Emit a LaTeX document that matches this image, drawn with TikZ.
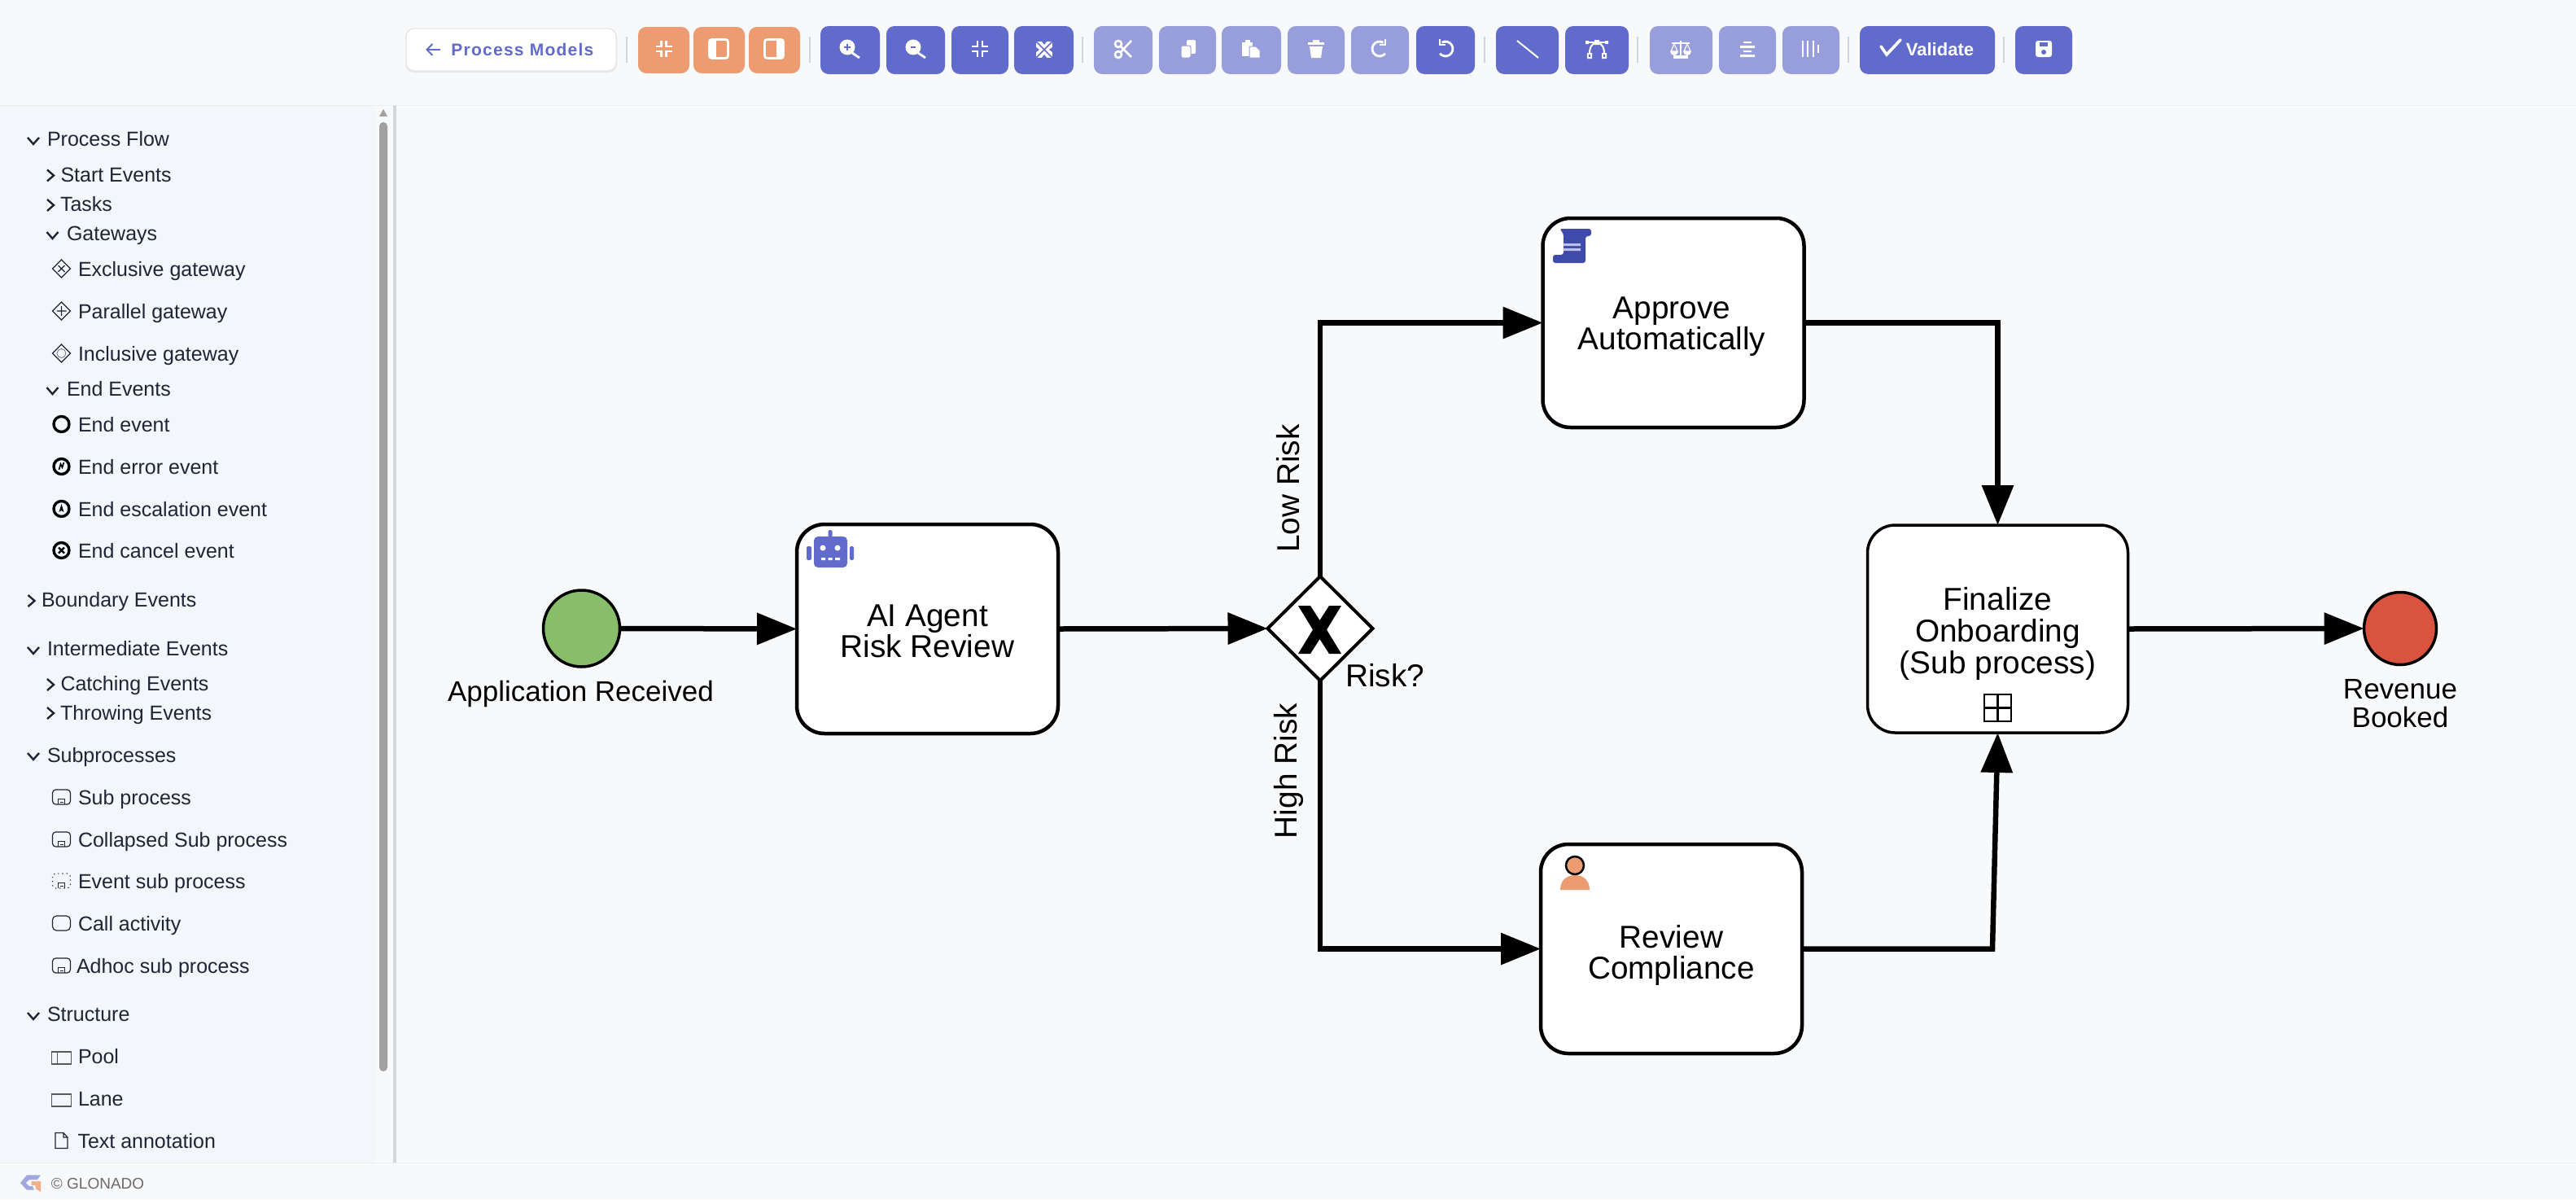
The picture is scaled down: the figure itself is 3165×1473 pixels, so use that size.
\documentclass[tikz,border=0pt]{standalone}
\usepackage{fontspec}
\setmainfont{Liberation Sans}
\usetikzlibrary{arrows.meta,shapes.geometric,calc}
\definecolor{pagebg}{HTML}{F8F9FB}
\definecolor{sidebg}{HTML}{F3F6FB}
\definecolor{sbtxt}{HTML}{1F2535}
\definecolor{btnorange}{HTML}{EC9C70}
\definecolor{btnblue}{HTML}{616BCB}
\definecolor{btnlight}{HTML}{989EDC}
\definecolor{sepgray}{HTML}{D2D4D9}
\definecolor{startgreen}{HTML}{88BE6A}
\definecolor{endred}{HTML}{D9533F}
\definecolor{scrollblue}{HTML}{3F4BA8}
\tikzset{
  x=0.5pt,y=-0.5pt,
  task/.style={draw=black,fill=white,line width=2.25pt,rounded corners=17pt,minimum width=160.5pt,minimum height=128.5pt,inner sep=0pt,outer sep=0pt,align=center,font=\fontsize{19.4pt}{19.3pt}\selectfont},
  evlabel/.style={inner sep=0pt,outer sep=0pt,align=center,font=\fontsize{17.5pt}{17.5pt}\selectfont},
  flowlabel/.style={inner sep=0pt,outer sep=0pt,font=\fontsize{19.4pt}{19.4pt}\selectfont},
  flow/.style={draw=black,line width=3.25pt,-{Triangle[length=24.5pt,width=19pt]}},
  sb/.style={inner sep=0pt,outer sep=0pt,anchor=base west,text=sbtxt,font=\fontsize{12.5pt}{14pt}\selectfont},
  chev/.style={draw=sbtxt,line width=1.2pt},
  sbic/.style={draw=sbtxt,line width=0.6pt},
  orangebtn/.style={fill=btnorange,rounded corners=5pt},
  bluebtn/.style={fill=btnblue,rounded corners=5pt},
  lightbtn/.style={fill=btnlight,rounded corners=5pt},
  tsep/.style={draw=sepgray,line width=0.6pt},
  ic/.style={draw=white,line width=1.4pt},
  icf/.style={fill=white},
}
\newcommand{\tsepat}[1]{\draw[tsep] (#1,45) -- (#1,77);}
\newcommand{\chevd}[2]{\draw[chev] (#1-7,#2-4) -- (#1,#2+4) -- (#1+7,#2-4);}
\newcommand{\chevr}[2]{\draw[chev] (#1-4,#2-7) -- (#1+4,#2) -- (#1-4,#2+7);}
\newcommand{\icCompress}[2]{\begin{scope}[shift={(#1,#2)}]
 \draw[ic] (-3,-10)--(-3,-3)--(-10,-3) (3,-10)--(3,-3)--(10,-3) (-3,10)--(-3,3)--(-10,3) (3,10)--(3,3)--(10,3);\end{scope}}
\newcommand{\sbsub}[2]{\begin{scope}[shift={(#1,#2)}]
 \draw[sbic,rounded corners=2pt] (-11,-9) rectangle (11,9);
 \draw[sbic,line width=0.45pt] (-4,9) -- (-4,2) -- (4,2) -- (4,9) (-2,6) -- (2,6);\end{scope}}
\begin{document}
\begin{tikzpicture}
\useasboundingbox (0,0) rectangle (3165,1473);
% backgrounds
\fill[pagebg] (0,0) rectangle (3165,1473);
\fill[sidebg] (0,129) rectangle (461,1428);
\fill[pagebg] (461,129) rectangle (483,1428);
\fill[black!13!sidebg] (483,129) rectangle (487,1428);
\draw[black!7,line width=0.5pt] (0,129) -- (3165,129);
\draw[black!7,line width=0.5pt] (0,1428) -- (3165,1428);
% scrollbar
\fill[black!37,rounded corners=2.5pt] (466,150) rectangle (476,1316);
\fill[black!37] (466,143) -- (471,134) -- (476,143) -- cycle;
% toolbar
\fill[black!9,rounded corners=5pt] (498,35) rectangle (758,89);
\draw[fill=white,draw=black!10,line width=0.5pt,rounded corners=5pt] (499,35) rectangle (757,87);
\draw[btnblue,line width=1pt,-{Straight Barb[length=3.5pt,width=7pt]}] (541,61) -- (523,61);
\node[inner sep=0pt,anchor=base west,text=btnblue] (btnmodels) at (554,68) {\fontsize{10.5pt}{12pt}\selectfont\bfseries\addfontfeature{LetterSpace=6}Process Models};
\tsepat{770}
\fill[orangebtn] (784,33) rectangle (847,90);
\fill[orangebtn] (852,33) rectangle (915,90);
\fill[orangebtn] (920,33) rectangle (983,90);
\icCompress{815.5}{60}
\begin{scope}[shift={(883,60)}]
 \draw[ic,rounded corners=1.5pt] (-11.5,-11.5) rectangle (11.5,11.5);
 \fill[white] (-11.5,-11.5) rectangle (-3,11.5);
\end{scope}
\begin{scope}[shift={(951,60)}]
 \draw[ic,rounded corners=1.5pt] (-11.5,-11.5) rectangle (11.5,11.5);
 \fill[white] (11.5,-11.5) rectangle (3,11.5);
\end{scope}
\tsepat{995}
\fill[bluebtn] (1008,32) rectangle (1081,91);
\fill[bluebtn] (1089,32) rectangle (1161,91);
\fill[bluebtn] (1169,32) rectangle (1239,91);
\fill[bluebtn] (1246,32) rectangle (1319,91);
\begin{scope}[shift={(1044,60)}]
 \fill[white] (-3,-2) circle[radius=9.5];
 \draw[ic] (3,5) -- (12,11);
 \draw[btnblue,line width=0.9pt] (-7,-2) -- (1,-2) (-3,-6) -- (-3,2);
\end{scope}
\begin{scope}[shift={(1125,60)}]
 \fill[white] (-3,-2) circle[radius=9.5];
 \draw[ic] (3,5) -- (12,11);
 \draw[btnblue,line width=0.9pt] (-6,-2) -- (0,-2);
\end{scope}
\icCompress{1204}{60}
\begin{scope}[shift={(1283,61)}]
 \fill[white] (-10,-10) rectangle (10,10);
 \draw[btnblue,line width=0.8pt] (-10,-10) -- (10,10) (-10,10) -- (10,-10);
 \fill[btnblue] (-10,-3) -- (-6,0) -- (-10,3) -- cycle (10,-3) -- (6,0) -- (10,3) -- cycle (-3,-10) -- (0,-6) -- (3,-10) -- cycle (-3,10) -- (0,6) -- (3,10) -- cycle;
\end{scope}
\tsepat{1330}
\fill[lightbtn] (1344,32) rectangle (1416,91);
\fill[lightbtn] (1424,32) rectangle (1494,91);
\fill[lightbtn] (1501,32) rectangle (1574,91);
\fill[lightbtn] (1582,32) rectangle (1652,91);
\fill[lightbtn] (1660,32) rectangle (1731,91);
\fill[bluebtn] (1740,32) rectangle (1812,91);
\begin{scope}[shift={(1380,60)}]
 \draw[ic,line width=1.3pt] (-6,-6) circle[radius=4] (-6,7) circle[radius=4] (-3,-3) -- (10,10) (-3,4) -- (10,-10);
\end{scope}
\begin{scope}[shift={(1460,60)}]
 \fill[white,rounded corners=1pt] (-2,-11) rectangle (9,6);
 \draw[fill=white,draw=btnlight,line width=0.5pt,rounded corners=1pt] (-9,-4) rectangle (3,11);
\end{scope}
\begin{scope}[shift={(1537,60)}]
 \fill[white] (-11,-8) rectangle (2,9);
 \fill[white] (-7,-11) rectangle (-1,-7);
 \draw[fill=white,draw=btnlight,line width=0.5pt] (-2,-3) -- (6,-3) -- (11,2) -- (11,11) -- (-2,11) -- cycle;
\end{scope}
\begin{scope}[shift={(1617,60)}]
 \fill[white] (-10,-8) rectangle (10,-5);
 \fill[white] (-4,-11) rectangle (4,-8);
 \fill[white] (-8,-3) -- (8,-3) -- (6,11) -- (-6,11) -- cycle;
\end{scope}
\begin{scope}[shift={(1695,60)}]
 \draw[ic] (4.5,-7.8) arc[start angle=-60,end angle=-320,radius=9];
 \draw[ic] (7,-12) -- (7,-5) -- (0,-5);
\end{scope}
\begin{scope}[shift={(1776,60)},xscale=-1]
 \draw[ic] (4.5,-7.8) arc[start angle=-60,end angle=-320,radius=9];
 \draw[ic] (7,-12) -- (7,-5) -- (0,-5);
\end{scope}
\tsepat{1824}
\fill[bluebtn] (1838,32) rectangle (1915,91);
\fill[bluebtn] (1923,32) rectangle (2001,91);
\draw[ic,line width=1pt] (1864,50) -- (1890,71);
\begin{scope}[shift={(1962,60)}]
 \draw[ic,line width=1pt] (-13,-8) -- (13,-8);
 \draw[ic,line width=1pt] (0,-8) .. controls (-8,-6) and (-9,0) .. (-9,6);
 \draw[ic,line width=1pt] (0,-8) .. controls (8,-6) and (9,0) .. (9,6);
 \fill[white] (-3,-11) rectangle (3,-5) (-14,-10) rectangle (-10,-6) (10,-10) rectangle (14,-6);
 \fill[white] (-12,5) rectangle (-6,12) (6,5) rectangle (12,12);
 \fill[btnblue] (-10,7) rectangle (-8,10) (8,7) rectangle (10,10);
\end{scope}
\tsepat{2012}
\fill[lightbtn] (2027,32) rectangle (2104,91);
\fill[lightbtn] (2112,32) rectangle (2182,91);
\fill[lightbtn] (2190,32) rectangle (2260,91);
\begin{scope}[shift={(2065,60)}]
 \draw[ic] (0,-10) -- (0,9) (-11,-7) -- (11,-7);
 \fill[white] (-9,8) rectangle (9,12);
 \draw[ic,line width=0.6pt] (-8,-6) -- (-12,3) -- (-4,3) -- cycle (8,-6) -- (12,3) -- (4,3) -- cycle;
 \fill[white] (-13,3) arc[start angle=180,end angle=0,radius=5] -- cycle;
 \fill[white] (3,3) arc[start angle=180,end angle=0,radius=5] -- cycle;
\end{scope}
\begin{scope}[shift={(2147,60)}]
 \fill[white] (-5,-9) rectangle (5,-7) (-9,-4) rectangle (9,-1) (-5,2) rectangle (5,4) (-9,7) rectangle (9,10);
\end{scope}
\begin{scope}[shift={(2225,60)}]
 \draw[ic,line width=0.9pt] (-10,-10) -- (-10,10) (-4,-10) -- (-4,10) (3,-10) -- (3,10) (9,-5) -- (9,5);
\end{scope}
\tsepat{2271}
\fill[bluebtn] (2285,32) rectangle (2451,91);
\draw[white,line width=1.8pt,line cap=round] (2311,57) -- (2318,67) -- (2335,49);
\node[inner sep=0pt,anchor=base west,text=white] (btnvalidate) at (2341.5,68) {\fontsize{11pt}{12pt}\selectfont\bfseries Validate};
\tsepat{2462}
\fill[bluebtn] (2476,32) rectangle (2546,91);
\begin{scope}[shift={(2511,60)}]
 \fill[white,rounded corners=1.5pt] (-10,-10) rectangle (10,10);
 \fill[btnblue] (-5,-8) rectangle (5,-3);
 \fill[btnblue] (0,4) circle[radius=3];
\end{scope}
% sidebar text
\foreach \tx/\ty/\tt [count=\i] in {
 58/179/Process Flow, 74.5/223/Start Events, 74/259/Tasks, 82/295/Gateways,
 96/339/Exclusive gateway, 96/391/Parallel gateway, 96/443/Inclusive gateway,
 82/486/End Events, 96/530/End event, 96/582/End error event,
 96/634/End escalation event, 96/685/End cancel event, 51/745/Boundary Events,
 58/805/Intermediate Events, 74.5/848/Catching Events, 74/884/Throwing Events,
 58/936/Subprocesses, 96/988/Sub process, 96/1040/Collapsed Sub process,
 96/1091/Event sub process, 96/1143/Call activity, 94/1195/Adhoc sub process,
 58/1254/Structure, 96/1306/Pool, 96/1358/Lane, 95.5/1410/Text annotation}
 {\node[sb] (sb\i) at (\tx,\ty) {\tt};}
\chevd{41}{173} \chevd{41}{799} \chevd{41}{929} \chevd{41}{1248}
\chevd{64.5}{289} \chevd{64.5}{480}
\chevr{62}{215.5} \chevr{62}{252} \chevr{62}{841} \chevr{62}{876} \chevr{38.5}{738}
% sidebar icons: gateways
\begin{scope}[shift={(75.5,330)}]
 \draw[sbic] (-11,0) -- (0,-11) -- (11,0) -- (0,11) -- cycle (-4,-4) -- (4,4) (-4,4) -- (4,-4);
\end{scope}
\begin{scope}[shift={(75.5,382)}]
 \draw[sbic] (-11,0) -- (0,-11) -- (11,0) -- (0,11) -- cycle (-6,0) -- (6,0) (0,-6) -- (0,6);
\end{scope}
\begin{scope}[shift={(75.5,434)}]
 \draw[sbic] (-11,0) -- (0,-11) -- (11,0) -- (0,11) -- cycle;
 \draw[draw=black!55,line width=0.4pt] (0,0) circle[radius=5.5];
\end{scope}
% sidebar icons: end events
\draw[black,line width=1.7pt] (75.5,521) circle[radius=9.5];
\begin{scope}[shift={(75.5,573)}]
 \draw[black,line width=1.7pt] (0,0) circle[radius=9.5];
 \draw[black,line width=0.8pt] (-3,4) -- (-1,-3) -- (1,1) -- (3,-5);
\end{scope}
\begin{scope}[shift={(75.5,625)}]
 \draw[black,line width=1.7pt] (0,0) circle[radius=9.5];
 \fill[black] (0,-6) -- (3,4) -- (0,2) -- (-3,4) -- cycle;
\end{scope}
\begin{scope}[shift={(75.5,676)}]
 \draw[black,line width=1.7pt] (0,0) circle[radius=9.5];
 \draw[black,line width=1.2pt] (-3.5,-3.5) -- (3.5,3.5) (-3.5,3.5) -- (3.5,-3.5);
\end{scope}
% sidebar icons: subprocesses
\sbsub{75.5}{979}
\sbsub{75.5}{1031}
\begin{scope}[shift={(75.5,1082)}]
 \draw[sbic,dotted,rounded corners=2pt] (-11,-9) rectangle (11,9);
 \draw[sbic,line width=0.45pt] (-4,9) -- (-4,2) -- (4,2) -- (4,9) (-2,6) -- (2,6);
\end{scope}
\draw[sbic,rounded corners=2.5pt] (64.5,1125) rectangle (86.5,1143);
\sbsub{75.5}{1186}
% sidebar icons: structure
\draw[draw=black!65,line width=0.7pt] (63.5,1292) rectangle (87.5,1307) (70.5,1292) -- (70.5,1307);
\draw[draw=black!65,line width=0.7pt] (63.5,1344) rectangle (87.5,1359);
\draw[sbic] (68,1391.5) -- (78,1391.5) -- (83,1397) -- (83,1410.5) -- (68,1410.5) -- cycle (78,1391.5) -- (78,1397) -- (83,1397);
% footer
\fill[btnlight!90!white] (33,1443.3) -- (50,1443.3) -- (46,1449) -- (36,1449) -- (31.7,1453) -- (36,1457) -- (40,1457) -- (42,1461.7) -- (33,1461.7) -- (25,1453) -- cycle;
\fill[btnorange!80!white] (38.5,1451) -- (50,1451) -- (50,1464) -- (43.5,1460) -- (43.5,1456) -- (38.5,1456) -- cycle;
\node[inner sep=0pt,anchor=base west,text=black!58] (footer) at (62.5,1460) {\fontsize{9.5pt}{11pt}\selectfont © GLONADO};
% process nodes
\node[circle,draw=black,fill=startgreen,line width=1.75pt,minimum size=47pt,inner sep=0pt,outer sep=0pt] (start) at (714.5,772) {};
\node[task] (ai) at (1139.5,772.5) {\rule{0pt}{16pt}AI Agent\\Risk Review};
\node[diamond,draw=black,fill=white,line width=2pt,minimum width=64.5pt,minimum height=64pt,inner sep=0pt,outer sep=0pt] (gw) at (1622,772) {};
\node[task] (approve) at (2056,396.5) {\rule{0pt}{18pt}Approve\hspace*{2pt}\\Automatically\hspace*{2pt}};
\node[task] (review) at (2053.5,1165.5) {\rule{0pt}{22pt}Review\\Compliance};
\node[task,line width=1.75pt,minimum width=160pt,minimum height=127.5pt] (final) at (2454.5,772.5) {\rule{0pt}{20pt}Finalize\\Onboarding\\(Sub process)};
\node[circle,draw=black,fill=endred,line width=1.75pt,minimum size=44.5pt,inner sep=0pt,outer sep=0pt] (endev) at (2949,772) {};
% labels
\node[evlabel,anchor=base] (lstart) at (713.5,861) {Application Received};
\node[evlabel,anchor=base] (lrev1) at (2949,858) {Revenue};
\node[evlabel,anchor=base] (lrev2) at (2949,893) {Booked};
\node[flowlabel,anchor=base west] (lrisk) at (1653,843) {Risk?};
% gateway X
\fill[black] (1595,744) -- (1610,744) -- (1621.5,762) -- (1633,744) -- (1648,744) -- (1630,773.5) -- (1648,803) -- (1633,803) -- (1621.5,785) -- (1610,803) -- (1595,803) -- (1613,773.5) -- cycle;
% subprocess marker
\draw[black,line width=1.1pt] (2438,853) rectangle (2471,886) (2454.5,853) -- (2454.5,886) (2438,869.5) -- (2471,869.5);
% robot icon
\begin{scope}[btnblue]
 \fill[rounded corners=2.5pt] (1000,659) rectangle (1041,697);
 \fill[rounded corners=1pt] (1017.5,651) rectangle (1022.5,660);
 \fill[rounded corners=1pt] (991,671) rectangle (997,688);
 \fill[rounded corners=1pt] (1044,671) rectangle (1049,688);
 \fill[white] (1011,673) circle[radius=3.5] (1029,673) circle[radius=3.5];
 \fill[white] (1009,685) rectangle (1014,688) (1017.5,685) rectangle (1022.5,688) (1026,685) rectangle (1032,688);
\end{scope}
% scroll icon
\fill[scrollblue,rounded corners=1.5pt] (1916,281) -- (1955,281) -- (1955,290) -- (1948,290) -- (1948,323) -- (1908,323) -- (1908,313) -- (1921,313) -- (1921,287) -- cycle;
\fill[black!25!blue!25!white] (1921,299) rectangle (1942,302) (1921,305) rectangle (1942,308);
% person icon
\fill[btnorange] (1917,1093) .. controls (1917,1081) and (1925,1075) .. (1935,1075) .. controls (1945,1075) and (1953,1081) .. (1953,1093) -- cycle;
\draw[fill=btnorange,draw=black,line width=1.25pt] (1935,1063) circle[radius=11];
% connectors
\coordinate (rbend) at (2448,1165.5);
\draw[flow] (start.east) -- (ai.west);
\draw[flow] (ai.east) -- (gw.west);
\draw[flow] (gw.north) |- (approve.west);
\draw[flow] (gw.south) |- (review.west);
\draw[flow] (approve.east) -| (final.north);
\draw[flow] (review.east) -- (rbend) -- (final.south);
\draw[flow] (final.east) -- (endev.west);
\node[flowlabel,rotate=90] (lowrisk) at (1583,600) {Low Risk};
\node[flowlabel,rotate=90] (highrisk) at (1583,947) {High Risk};
\end{tikzpicture}
\end{document}
